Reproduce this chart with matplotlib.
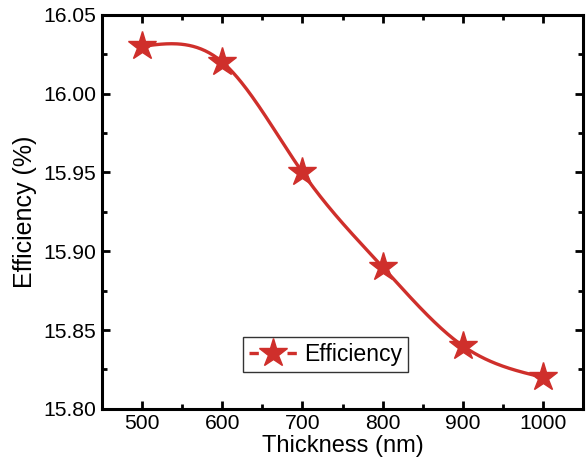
import numpy as np
import matplotlib
matplotlib.use('Agg')
import matplotlib.pyplot as plt
from matplotlib.ticker import MultipleLocator, FormatStrFormatter

plt.rcParams['font.family'] = ['Liberation Sans', 'DejaVu Sans']

# 厚度 / 效率
thickness = [500, 600, 700, 800, 900, 1000]
efficiency = [16.03, 16.02, 15.95, 15.89, 15.84, 15.82]
series_name = 'Efficiency'

red = '#cf2f2b'


def natural_spline(x, y, num=300):
    # 自然三次样条，只用于画平滑曲线
    x = np.asarray(x, float)
    y = np.asarray(y, float)
    n = len(x)
    h = np.diff(x)
    A = np.zeros((n, n))
    b = np.zeros(n)
    A[0, 0] = 1
    A[-1, -1] = 1
    for i in range(1, n - 1):
        A[i, i - 1] = h[i - 1]
        A[i, i] = 2 * (h[i - 1] + h[i])
        A[i, i + 1] = h[i]
        b[i] = 3 * ((y[i + 1] - y[i]) / h[i] - (y[i] - y[i - 1]) / h[i - 1])
    c = np.linalg.solve(A, b)
    xs = np.linspace(x[0], x[-1], num)
    ys = np.empty_like(xs)
    for k, xv in enumerate(xs):
        i = min(np.searchsorted(x, xv, side='right') - 1, n - 2)
        dx = xv - x[i]
        bi = (y[i + 1] - y[i]) / h[i] - h[i] * (2 * c[i] + c[i + 1]) / 3
        di = (c[i + 1] - c[i]) / (3 * h[i])
        ys[k] = y[i] + bi * dx + c[i] * dx ** 2 + di * dx ** 3
    return xs, ys


fig = plt.figure(figsize=(5.87, 4.63), dpi=100)
ax = fig.add_axes([0.174, 0.117, 0.819, 0.851])

xs, ys = natural_spline(thickness, efficiency)
ax.plot(xs, ys, color=red, lw=2.4, zorder=2)
ax.plot(thickness, efficiency, ls='none', marker='*', ms=21.5, color=red,
        markeredgecolor=red, zorder=3)
# 图例用的句柄：两段短线中间一个星
handle, = ax.plot([], [], color=red, lw=2.4, ls='--', dashes=(2.8, 8.6),
                  marker='*', ms=21.5, markeredgecolor=red)

ax.set_xlim(450, 1050)
ax.set_ylim(15.80, 16.05)
ax.xaxis.set_major_locator(MultipleLocator(100))
ax.xaxis.set_minor_locator(MultipleLocator(50))
ax.yaxis.set_major_locator(MultipleLocator(0.05))
ax.yaxis.set_minor_locator(MultipleLocator(0.025))
ax.yaxis.set_major_formatter(FormatStrFormatter('%.2f'))

for s in ax.spines.values():
    s.set_linewidth(2.2)
ax.tick_params(which='both', direction='in', top=True, right=True,
               labelsize=15.2, width=2, pad=4)
ax.tick_params(which='major', length=6)
ax.tick_params(which='minor', length=3.5)

ax.set_xlabel('Thickness (nm)', fontsize=17, labelpad=1)
ax.set_ylabel('Efficiency (%)', fontsize=18, labelpad=5)

leg = ax.legend([handle], [series_name], loc='lower left',
                bbox_to_anchor=(0.293, 0.094), fontsize=16.6, frameon=True,
                fancybox=False, handlelength=2.1, handletextpad=0.3,
                borderpad=0.25, borderaxespad=0)
leg.get_frame().set_edgecolor('black')
leg.get_frame().set_linewidth(1.0)

fig.savefig('out.png', dpi=100)
